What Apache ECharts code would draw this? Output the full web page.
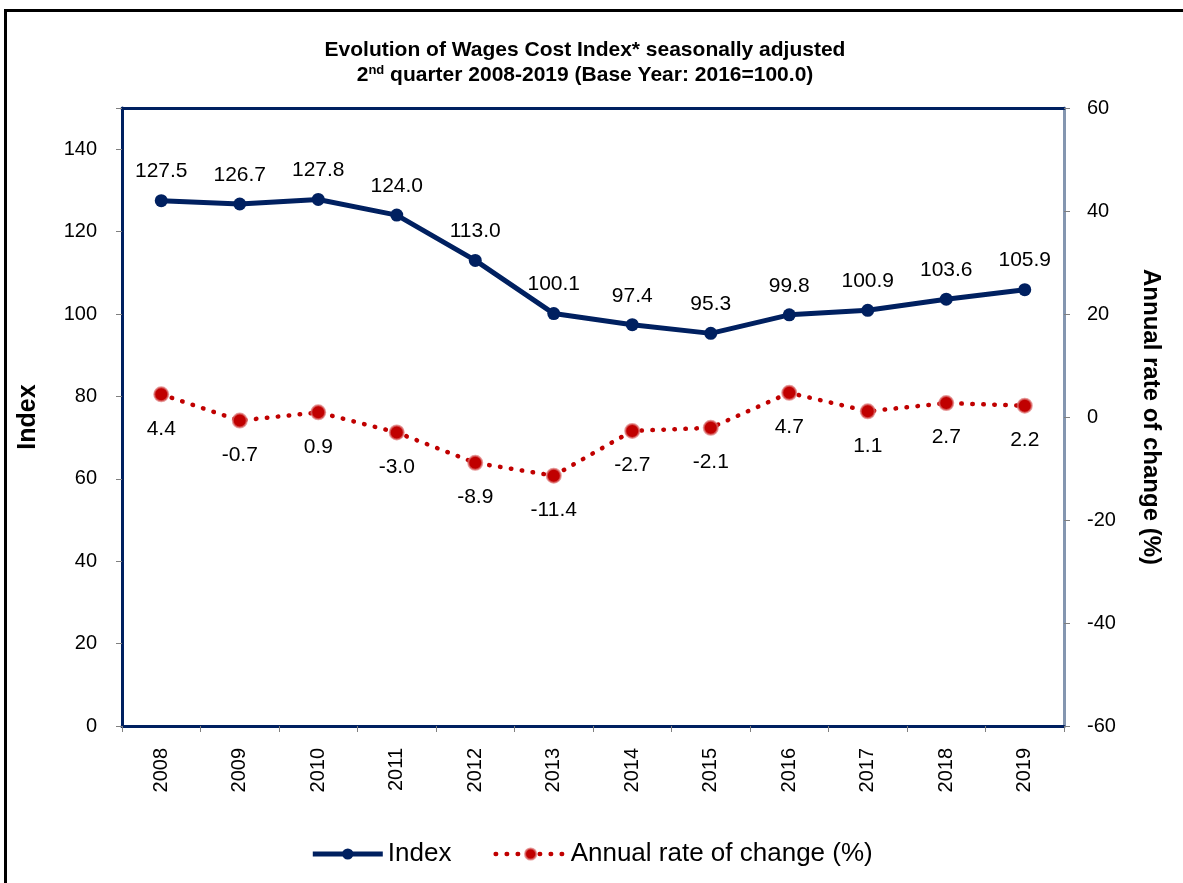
<!DOCTYPE html>
<html>
<head>
<meta charset="utf-8">
<title>Wages Cost Index</title>
<script src="https://cdn.jsdelivr.net/npm/echarts@6/dist/echarts.min.js"></script>
<style>
  html, body {
    margin: 0;
    padding: 0;
    background: #fff;
  }
  .frame {
    position: absolute;
    left: 4px;
    top: 9px;
    width: 1190px;
    height: 890px;
    border-top: 3px solid #000;
    border-left: 3px solid #000;
    pointer-events: none;
  }
  #chart {
    width: 1183px;
    height: 883px;
  }
</style>
</head>
<body>
<div id="chart"></div>
<div class="frame"></div>
<script>
const years = ['2008', '2009', '2010', '2011', '2012', '2013', '2014', '2015', '2016', '2017', '2018', '2019']
const indexValues = [127.5, 126.7, 127.8, 124.0, 113.0, 100.1, 97.4, 95.3, 99.8, 100.9, 103.6, 105.9]
const rateValues = [4.4, -0.7, 0.9, -3.0, -8.9, -11.4, -2.7, -2.1, 4.7, 1.1, 2.7, 2.2]

const FONT = '"Liberation Sans", Arial, sans-serif'
const NAVY = '#002060'
const RED = '#c00000'
const TICK_GRAY = '#7f7f7f'

const chart = echarts.init(document.getElementById('chart'))

const option = {
  animation: false,
  textStyle: { fontFamily: FONT },
  title: {
    left: 580,
    textAlign: 'center',
    top: 33,
    text: '{a|Evolution of Wages Cost Index* seasonally adjusted}\n{a|2}{sup|nd}{a| quarter 2008-2019 (Base Year: 2016=100.0)}',
    textStyle: {
      rich: {
        a: { fontFamily: FONT, fontSize: 21, fontWeight: 'bold', color: '#000', lineHeight: 25 },
        sup: { fontFamily: FONT, fontSize: 13, fontWeight: 'bold', color: '#000', padding: [0, 0, 10, 0] },
      },
    },
  },
  legend: {
    bottom: 11,
    left: 'center',
    itemWidth: 70,
    itemHeight: 14,
    itemGap: 42,
    textStyle: { fontFamily: FONT, fontSize: 26, color: '#000' },
    data: [
      { name: 'Index', lineStyle: { width: 5 } },
      { name: 'Annual rate of change (%)', lineStyle: { width: 4.5 } },
    ],
  },
  grid: {
    left: 122,
    right: 119,
    top: 108,
    bottom: 157,
  },
  xAxis: [
    {
      type: 'category',
      data: years,
      boundaryGap: true,
      axisLine: { onZero: false, lineStyle: { color: NAVY, width: 3 } },
      axisTick: { show: true, length: 6, lineStyle: { color: TICK_GRAY } },
      axisLabel: { rotate: 90, margin: 22, fontSize: 20, color: '#000', fontFamily: FONT },
      splitLine: { show: false },
    },
    {
      type: 'category',
      data: years,
      position: 'top',
      axisLine: { onZero: false, lineStyle: { color: NAVY, width: 3 } },
      axisTick: { show: false },
      axisLabel: { show: false },
    },
  ],
  yAxis: [
    {
      type: 'value',
      min: 0,
      max: 150,
      interval: 20,
      name: 'Index',
      nameLocation: 'middle',
      nameGap: 81,
      nameTextStyle: { fontFamily: FONT, fontSize: 25, fontWeight: 'bold', color: '#000' },
      axisLine: { show: true, lineStyle: { color: NAVY, width: 3 } },
      axisTick: { show: true, length: 6, lineStyle: { color: TICK_GRAY } },
      axisLabel: {
        margin: 25,
        fontSize: 20,
        color: '#000',
        fontFamily: FONT,
        formatter: (v) => (v % 20 === 0 ? String(v) : ''),
      },
      splitLine: { show: false },
    },
    {
      type: 'value',
      min: -60,
      max: 60,
      interval: 20,
      position: 'right',
      name: 'Annual rate of change (%)',
      nameLocation: 'middle',
      nameRotate: -90,
      nameGap: 75,
      nameTextStyle: { fontFamily: FONT, fontSize: 24, fontWeight: 'bold', color: '#000' },
      axisLine: { show: true, lineStyle: { color: '#8496b0', width: 3 } },
      axisTick: { show: true, length: 6, lineStyle: { color: TICK_GRAY } },
      axisLabel: { margin: 23, fontSize: 20, color: '#000', fontFamily: FONT },
      splitLine: { show: false },
    },
  ],
  series: [
    {
      name: 'Index',
      type: 'line',
      yAxisIndex: 0,
      data: indexValues,
      symbol: 'circle',
      symbolSize: 13,
      lineStyle: { color: NAVY, width: 5 },
      itemStyle: { color: NAVY },
      label: {
        show: true,
        position: 'top',
        distance: 12,
        fontSize: 21,
        color: '#000',
        fontFamily: FONT,
        formatter: (p) => p.value.toFixed(1),
      },
    },
    {
      name: 'Annual rate of change (%)',
      type: 'line',
      yAxisIndex: 1,
      data: rateValues,
      symbol: 'circle',
      symbolSize: 14,
      lineStyle: { color: RED, width: 4.5, type: [0.5, 10.5], cap: 'round' },
      itemStyle: { color: RED, borderColor: 'rgba(220, 110, 110, 0.7)', borderWidth: 2 },
      label: {
        show: true,
        position: 'bottom',
        distance: 16,
        fontSize: 21,
        color: '#000',
        fontFamily: FONT,
        formatter: (p) => p.value.toFixed(1),
      },
    },
  ],
}

chart.setOption(option)
</script>
</body>
</html>
